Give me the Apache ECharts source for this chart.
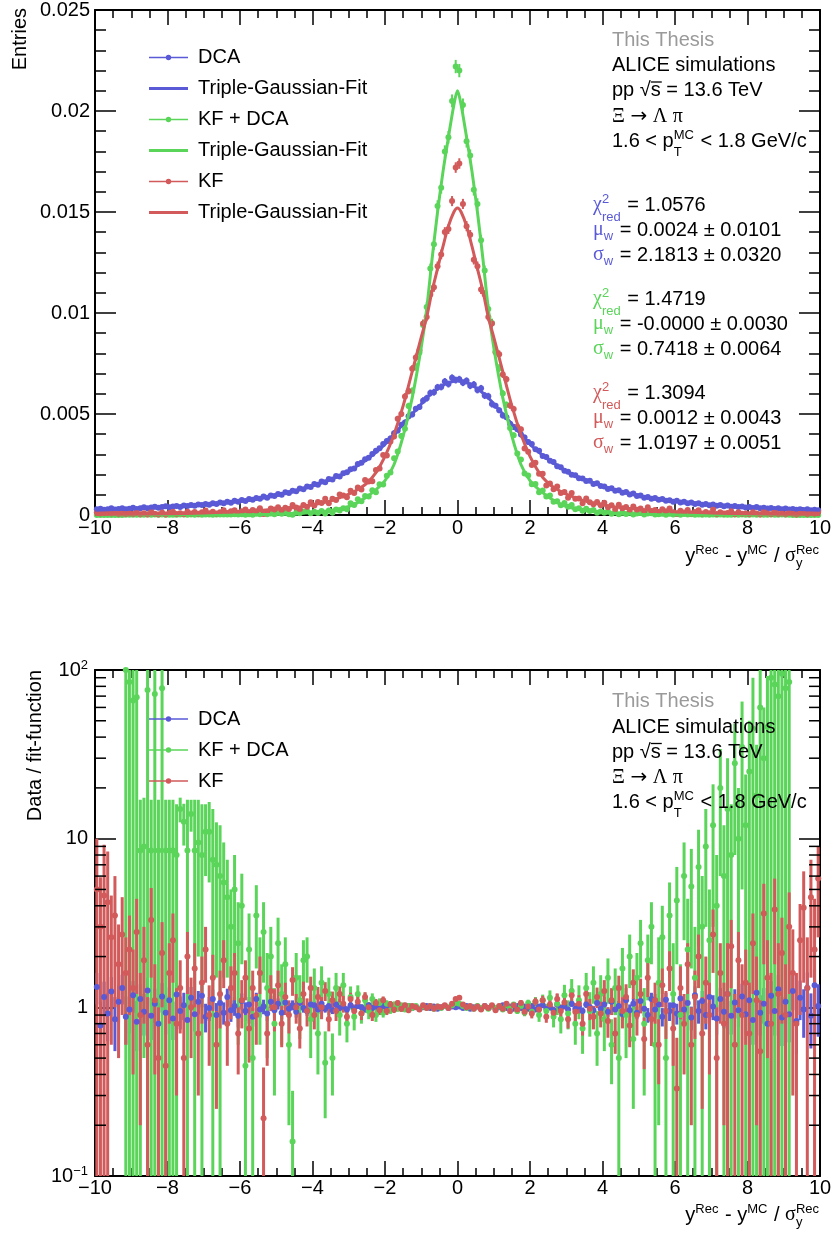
<!DOCTYPE html>
<html><head><meta charset="utf-8">
<script src="https://cdn.jsdelivr.net/npm/echarts@6/dist/echarts.min.js"></script>
<style>html,body{margin:0;padding:0;background:#fff;}#c{width:833px;height:1233px;}</style>
</head><body><div id="c"></div>
<script>
// ---------------- DATA ----------------
const binCenters = [
-9.95,-9.85,-9.75,-9.65,-9.55,-9.45,-9.35,-9.25,-9.15,-9.05,
-8.95,-8.85,-8.75,-8.65,-8.55,-8.45,-8.35,-8.25,-8.15,-8.05,
-7.95,-7.85,-7.75,-7.65,-7.55,-7.45,-7.35,-7.25,-7.15,-7.05,
-6.95,-6.85,-6.75,-6.65,-6.55,-6.45,-6.35,-6.25,-6.15,-6.05,
-5.95,-5.85,-5.75,-5.65,-5.55,-5.45,-5.35,-5.25,-5.15,-5.05,
-4.95,-4.85,-4.75,-4.65,-4.55,-4.45,-4.35,-4.25,-4.15,-4.05,
-3.95,-3.85,-3.75,-3.65,-3.55,-3.45,-3.35,-3.25,-3.15,-3.05,
-2.95,-2.85,-2.75,-2.65,-2.55,-2.45,-2.35,-2.25,-2.15,-2.05,
-1.95,-1.85,-1.75,-1.65,-1.55,-1.45,-1.35,-1.25,-1.15,-1.05,
-0.95,-0.85,-0.75,-0.65,-0.55,-0.45,-0.35,-0.25,-0.15,-0.05,
0.05,0.15,0.25,0.35,0.45,0.55,0.65,0.75,0.85,0.95,
1.05,1.15,1.25,1.35,1.45,1.55,1.65,1.75,1.85,1.95,
2.05,2.15,2.25,2.35,2.45,2.55,2.65,2.75,2.85,2.95,
3.05,3.15,3.25,3.35,3.45,3.55,3.65,3.75,3.85,3.95,
4.05,4.15,4.25,4.35,4.45,4.55,4.65,4.75,4.85,4.95,
5.05,5.15,5.25,5.35,5.45,5.55,5.65,5.75,5.85,5.95,
6.05,6.15,6.25,6.35,6.45,6.55,6.65,6.75,6.85,6.95,
7.05,7.15,7.25,7.35,7.45,7.55,7.65,7.75,7.85,7.95,
8.05,8.15,8.25,8.35,8.45,8.55,8.65,8.75,8.85,8.95,
9.05,9.15,9.25,9.35,9.45,9.55,9.65,9.75,9.85,9.95];

// Top panel: entries (DCA)
const dcaEntries = [
0.00028,0.00031,0.00026,0.00029,0.00033,0.00027,0.00030,0.00034,0.00029,0.00031,
0.00036,0.00030,0.00034,0.00038,0.00033,0.00037,0.00041,0.00036,0.00039,0.00043,
0.00038,0.00042,0.00045,0.00040,0.00047,0.00044,0.00050,0.00046,0.00052,0.00049,
0.00055,0.00051,0.00058,0.00054,0.00062,0.00058,0.00066,0.00061,0.00070,0.00066,
0.00074,0.00069,0.00079,0.00075,0.00084,0.00080,0.00091,0.00086,0.00097,0.00094,
0.00104,0.00100,0.00113,0.00109,0.00120,0.00118,0.00131,0.00127,0.00141,0.00138,
0.00153,0.00150,0.00166,0.00162,0.00178,0.00176,0.00193,0.00190,0.00207,0.00212,
0.00226,0.00230,0.00252,0.00259,0.00276,0.00283,0.00302,0.00318,0.00330,0.00352,
0.00366,0.00379,0.00405,0.00418,0.00447,0.00458,0.00489,0.00498,0.00526,0.00535,
0.00566,0.00578,0.00604,0.00608,0.00632,0.00634,0.00661,0.00648,0.00679,0.00668,
0.00672,0.00655,0.00664,0.00640,0.00646,0.00619,0.00627,0.00591,0.00588,0.00549,
0.00541,0.00518,0.00492,0.00484,0.00452,0.00436,0.00425,0.00398,0.00384,0.00362,
0.00351,0.00326,0.00318,0.00292,0.00287,0.00268,0.00262,0.00241,0.00237,0.00219,
0.00214,0.00199,0.00197,0.00182,0.00181,0.00168,0.00169,0.00154,0.00157,0.00143,
0.00141,0.00129,0.00133,0.00120,0.00122,0.00110,0.00114,0.00102,0.00106,0.00094,
0.00097,0.00086,0.00089,0.00080,0.00084,0.00075,0.00079,0.00070,0.00073,0.00066,
0.00070,0.00062,0.00065,0.00058,0.00062,0.00055,0.00058,0.00051,0.00055,0.00048,
0.00052,0.00046,0.00049,0.00043,0.00047,0.00041,0.00044,0.00039,0.00042,0.00037,
0.00040,0.00035,0.00039,0.00034,0.00036,0.00032,0.00035,0.00030,0.00033,0.00029,
0.00032,0.00027,0.00030,0.00026,0.00029,0.00025,0.00028,0.00024,0.00026,0.00023];
const dcaErr = [
0.00004,0.00004,0.00004,0.00004,0.00004,0.00004,0.00004,0.00004,0.00004,0.00004,
0.00004,0.00004,0.00004,0.00004,0.00004,0.00004,0.00004,0.00004,0.00004,0.00004,
0.00005,0.00005,0.00005,0.00005,0.00005,0.00005,0.00005,0.00005,0.00005,0.00005,
0.00005,0.00005,0.00005,0.00005,0.00005,0.00005,0.00005,0.00005,0.00005,0.00005,
0.00006,0.00006,0.00006,0.00006,0.00006,0.00006,0.00006,0.00006,0.00006,0.00006,
0.00007,0.00007,0.00007,0.00007,0.00007,0.00007,0.00007,0.00007,0.00007,0.00007,
0.00009,0.00009,0.00009,0.00009,0.00009,0.00009,0.00009,0.00009,0.00009,0.00009,
0.00011,0.00011,0.00011,0.00011,0.00011,0.00011,0.00011,0.00011,0.00011,0.00011,
0.00014,0.00014,0.00014,0.00014,0.00014,0.00014,0.00014,0.00014,0.00014,0.00014,
0.00017,0.00017,0.00017,0.00017,0.00017,0.00017,0.00017,0.00017,0.00017,0.00017,
0.00017,0.00017,0.00017,0.00017,0.00017,0.00017,0.00017,0.00017,0.00017,0.00017,
0.00014,0.00014,0.00014,0.00014,0.00014,0.00014,0.00014,0.00014,0.00014,0.00014,
0.00011,0.00011,0.00011,0.00011,0.00011,0.00011,0.00011,0.00011,0.00011,0.00011,
0.00009,0.00009,0.00009,0.00009,0.00009,0.00009,0.00009,0.00009,0.00009,0.00009,
0.00007,0.00007,0.00007,0.00007,0.00007,0.00007,0.00007,0.00007,0.00007,0.00007,
0.00006,0.00006,0.00006,0.00006,0.00006,0.00006,0.00006,0.00006,0.00006,0.00006,
0.00005,0.00005,0.00005,0.00005,0.00005,0.00005,0.00005,0.00005,0.00005,0.00005,
0.00005,0.00005,0.00005,0.00005,0.00005,0.00005,0.00005,0.00005,0.00005,0.00005,
0.00004,0.00004,0.00004,0.00004,0.00004,0.00004,0.00004,0.00004,0.00004,0.00004,
0.00004,0.00004,0.00004,0.00004,0.00004,0.00004,0.00004,0.00004,0.00004,0.00004];

// Top panel: entries (KF + DCA)
const kfdcaEntries = [
0,0,0,0,0,0,0,0,0.00001,0.00001,
0.00001,0.00001,0.00001,0.00001,0.00002,0.00001,0.00002,0.00001,0.00002,0.00001,
0.00001,0.00001,0.00001,0.00002,0.00002,0.00001,0.00002,0.00001,0.00002,0.00001,
0.00002,0.00002,0.00001,0.00002,0.00002,0.00002,0.00003,0.00002,0.00004,0.00002,
0.00004,0.00001,0.00004,0.00001,0.00006,0.00004,0.00007,0.00004,0.00008,0.00004,
0.00011,0.00006,0.00011,0.00004,0.00001,0.00011,0.00009,0.00017,0.0002,0.00009,
0.00016,0.0001,0.0002,0.00008,0.00022,0.00011,0.00027,0.00022,0.00034,0.00028,
0.00058,0.0005,0.00078,0.00068,0.00094,0.00092,0.00123,0.00113,0.00152,0.00151,
0.00194,0.00211,0.00281,0.00314,0.00391,0.00427,0.0054,0.00614,0.00734,0.00804,
0.0094,0.0103,0.0122,0.0134,0.0153,0.0162,0.018,0.0187,0.0205,0.0222,
0.0220,0.0203,0.0185,0.0178,0.0161,0.0154,0.0136,0.0121,0.0102,0.0095,
0.0081,0.00727,0.00601,0.00546,0.00431,0.00395,0.00304,0.00275,0.00205,0.00196,
0.00152,0.00154,0.00113,0.00121,0.00092,0.00097,0.00065,0.00068,0.00048,0.00059,
0.00041,0.00049,0.00028,0.00034,0.00021,0.00031,0.0002,0.00025,0.00011,0.00017,
0.00011,0.00017,0.00006,0.00012,0.00004,0.00011,0.00005,0.00011,0.00003,0.00007,
0.0001,0.00003,0.00007,0.00009,0.00002,0.00004,0.00006,0.00001,0.00006,0.00002,
0.00005,0.00001,0.00005,0.00002,0.00004,0.00001,0.00003,0.00001,0.00003,0.00001,
0.00002,0.00001,0.00002,0.00001,0.00001,0.00001,0.00002,0.00001,0.00002,0.00001,
0.00001,0.00002,0.00001,0.00002,0.00001,0.00001,0.00002,0.00001,0.00001,0.00002,
0.00001,0.00001,0,0,0,0,0,0,0,0];
const kfdcaErr = [
0,0,0,0,0,0,0,0,0.00001,0.00001,
0.00001,0.00001,0.00001,0.00001,0.00001,0.00001,0.00001,0.00001,0.00001,0.00001,
0.00001,0.00001,0.00001,0.00001,0.00001,0.00001,0.00001,0.00001,0.00001,0.00001,
0.00001,0.00001,0.00001,0.00001,0.00001,0.00001,0.00002,0.00002,0.00002,0.00002,
0.00002,0.00002,0.00002,0.00002,0.00002,0.00002,0.00002,0.00002,0.00002,0.00002,
0.00002,0.00002,0.00002,0.00002,0.00002,0.00002,0.00002,0.00002,0.00002,0.00002,
0.00003,0.00003,0.00003,0.00003,0.00003,0.00003,0.00003,0.00003,0.00003,0.00003,
0.00005,0.00005,0.00005,0.00005,0.00005,0.00005,0.00005,0.00005,0.00005,0.00005,
0.0001,0.00011,0.00012,0.00013,0.00014,0.00015,0.00016,0.00018,0.0002,0.00021,
0.00022,0.00024,0.00025,0.00027,0.00028,0.00029,0.0003,0.00031,0.00032,0.00033,
0.00033,0.00032,0.00031,0.0003,0.00029,0.00028,0.00027,0.00025,0.00024,0.00022,
0.00021,0.0002,0.00018,0.00016,0.00015,0.00014,0.00013,0.00012,0.00011,0.0001,
0.00005,0.00005,0.00005,0.00005,0.00005,0.00005,0.00005,0.00005,0.00005,0.00005,
0.00003,0.00003,0.00003,0.00003,0.00003,0.00003,0.00003,0.00003,0.00003,0.00003,
0.00002,0.00002,0.00002,0.00002,0.00002,0.00002,0.00002,0.00002,0.00002,0.00002,
0.00002,0.00002,0.00002,0.00002,0.00002,0.00002,0.00002,0.00002,0.00002,0.00002,
0.00002,0.00002,0.00002,0.00002,0.00001,0.00001,0.00001,0.00001,0.00001,0.00001,
0.00001,0.00001,0.00001,0.00001,0.00001,0.00001,0.00001,0.00001,0.00001,0.00001,
0.00001,0.00001,0.00001,0.00001,0.00001,0.00001,0.00001,0.00001,0.00001,0.00001,
0.00001,0.00001,0,0,0,0,0,0,0,0];

// Top panel: entries (KF)
const kfEntries = [
0.00013,0.00008,0.00012,0.00011,0.00007,0.0001,0.00005,0.00008,0.00005,0.00008,
0.00005,0.00012,0.00004,0.00009,0.00003,0.00016,0.00006,0.00003,0.00012,0.00003,
0.0001,0.00016,0.00005,0.00009,0.00004,0.00016,0.00008,0.00015,0.00006,0.00014,
0.00022,0.00009,0.00016,0.00007,0.00014,0.00023,0.0001,0.00018,0.00023,0.00011,
0.00019,0.00027,0.00014,0.00025,0.00018,0.00033,0.00005,0.00016,0.00032,0.00027,
0.00038,0.00024,0.00036,0.0003,0.0005,0.00037,0.00029,0.00049,0.00041,0.00063,
0.00047,0.00064,0.0006,0.0008,0.00058,0.0008,0.00074,0.00102,0.00097,0.00088,
0.0012,0.00109,0.00136,0.00126,0.00173,0.00166,0.00167,0.00223,0.0023,0.00297,
0.00295,0.00364,0.00388,0.00477,0.005,0.00587,0.00614,0.00724,0.0078,0.00815,
0.00948,0.0098,0.01091,0.01127,0.01232,0.0129,0.01401,0.01416,0.01554,0.0172,
0.0174,0.0154,0.0143,0.01387,0.01264,0.01232,0.01116,0.01091,0.0098,0.00948,
0.00806,0.00796,0.00696,0.00672,0.00542,0.00525,0.00437,0.00424,0.00329,0.00313,
0.00248,0.00259,0.00204,0.00204,0.00146,0.00156,0.00127,0.00141,0.00109,0.00114,
0.00085,0.00109,0.0008,0.00082,0.00058,0.00082,0.00063,0.00053,0.00064,0.00048,
0.00061,0.00038,0.00048,0.00029,0.00051,0.00034,0.00039,0.00025,0.00042,0.00026,
0.00032,0.00017,0.00038,0.0002,0.00025,0.00013,0.00028,0.00019,0.00032,0.00014,
0.00006,0.00021,0.00012,0.00025,0.00008,0.00015,0.00024,0.00008,0.00015,0.00009,
0.00027,0.00005,0.00014,0.00007,0.0001,0.00018,0.00004,0.00013,0.00006,0.00008,
0.00004,0.00014,0.00007,0.00003,0.00018,0.00008,0.00004,0.00019,0.00005,0.00008,
0.00004,0.00012,0.00006,0.00002,0.00008,0.00012,0.00004,0.00013,0.00006,0.00015];
const kfErr = [
0.00003,0.00003,0.00003,0.00003,0.00003,0.00003,0.00003,0.00003,0.00003,0.00003,
0.00003,0.00003,0.00003,0.00003,0.00003,0.00003,0.00003,0.00003,0.00003,0.00003,
0.00003,0.00003,0.00003,0.00003,0.00003,0.00003,0.00003,0.00003,0.00003,0.00003,
0.00003,0.00003,0.00003,0.00003,0.00003,0.00003,0.00003,0.00003,0.00003,0.00003,
0.00004,0.00004,0.00004,0.00004,0.00004,0.00004,0.00004,0.00004,0.00004,0.00004,
0.00004,0.00004,0.00004,0.00004,0.00004,0.00004,0.00004,0.00004,0.00004,0.00004,
0.00006,0.00006,0.00006,0.00006,0.00006,0.00006,0.00006,0.00006,0.00006,0.00006,
0.00008,0.00008,0.00008,0.00008,0.00008,0.00008,0.00008,0.00008,0.00008,0.00008,
0.00011,0.00012,0.00013,0.00014,0.00015,0.00016,0.00017,0.00018,0.00019,0.0002,
0.0002,0.00021,0.00022,0.00022,0.00023,0.00024,0.00024,0.00025,0.00025,0.00026,
0.00026,0.00025,0.00025,0.00024,0.00024,0.00023,0.00022,0.00022,0.00021,0.0002,
0.0002,0.00019,0.00018,0.00017,0.00016,0.00015,0.00014,0.00013,0.00012,0.00011,
0.00008,0.00008,0.00008,0.00008,0.00008,0.00008,0.00008,0.00008,0.00008,0.00008,
0.00006,0.00006,0.00006,0.00006,0.00006,0.00006,0.00006,0.00006,0.00006,0.00006,
0.00004,0.00004,0.00004,0.00004,0.00004,0.00004,0.00004,0.00004,0.00004,0.00004,
0.00004,0.00004,0.00004,0.00004,0.00004,0.00004,0.00004,0.00004,0.00004,0.00004,
0.00003,0.00003,0.00003,0.00003,0.00003,0.00003,0.00003,0.00003,0.00003,0.00003,
0.00003,0.00003,0.00003,0.00003,0.00003,0.00003,0.00003,0.00003,0.00003,0.00003,
0.00003,0.00003,0.00003,0.00003,0.00003,0.00003,0.00003,0.00003,0.00003,0.00003,
0.00003,0.00003,0.00003,0.00003,0.00003,0.00003,0.00003,0.00003,0.00003,0.00003];

// Triple-Gaussian fit curves, sampled
const fitX = [-10,-9,-8,-7,-6,-5.5,-5,-4.5,-4,-3.5,-3,-2.75,-2.5,-2.25,-2,-1.75,-1.5,-1.25,-1,-0.85,-0.7,-0.55,-0.4,-0.25,-0.1,
0,0.1,0.25,0.4,0.55,0.7,0.85,1,1.25,1.5,1.75,2,2.25,2.5,2.75,3,3.5,4,4.5,5,5.5,6,7,8,9,10];
const dcaFit = [0.00024,0.0003,0.00038,0.0005,0.00068,0.0008,0.00097,0.00118,0.00144,0.00176,0.00215,0.00245,0.00275,0.0031,0.0035,0.004,0.0045,0.005,0.0055,0.0058,0.00604,0.00625,0.00642,0.00655,0.00662,
0.00664,0.00662,0.00655,0.00642,0.00625,0.00604,0.0058,0.0055,0.005,0.0045,0.004,0.0035,0.0031,0.00275,0.00245,0.00215,0.00176,0.00144,0.00118,0.00097,0.0008,0.00068,0.0005,0.00038,0.0003,0.00024];
const kfdcaFit = [0,0,0,0.000002,0.00001,0.00002,0.00004,0.00007,0.00012,0.00022,0.00042,0.00061,0.0009,0.00125,0.0017,0.0025,0.0039,0.0058,0.0083,0.0102,0.0127,0.015,0.017,0.0187,0.0203,
0.021,0.0203,0.0187,0.017,0.015,0.0127,0.0102,0.0083,0.0058,0.0039,0.0025,0.0017,0.00125,0.0009,0.00061,0.00042,0.00022,0.00012,0.00007,0.00004,0.00002,0.00001,0.000002,0,0,0];
const kfFit = [0.000025,0.00004,0.00006,0.0001,0.00017,0.00022,0.00028,0.00037,0.0005,0.0007,0.00103,0.00126,0.00158,0.0021,0.0029,0.004,0.0054,0.0071,0.0088,0.0098,0.0111,0.0122,0.0133,0.0143,0.015,
0.0152,0.015,0.0143,0.0133,0.0122,0.0111,0.0098,0.0088,0.0071,0.0054,0.004,0.0029,0.0021,0.00158,0.00126,0.00103,0.0007,0.0005,0.00037,0.00028,0.00022,0.00017,0.0001,0.00006,0.00004,0.000025];

// Bottom panel: data / fit-function
const dcaRatio = [
1.32,0.78,1.15,0.92,1.24,0.85,1.08,1.30,0.88,0.97,1.18,0.82,1.12,0.94,1.26,0.89,1.05,0.80,1.16,0.93,
1.10,0.86,1.19,0.95,1.03,0.84,1.14,0.91,1.08,1.17,0.88,0.99,1.12,0.90,1.06,0.93,1.15,0.96,1.02,0.89,
1.09,0.95,1.04,0.88,1.12,0.97,1.01,0.92,1.08,0.96,1.05,0.93,1.07,0.98,1.03,0.94,1.06,0.99,0.95,1.04,
1.03,0.97,1.05,0.98,1.02,0.96,1.04,0.99,1.01,0.97,1.03,0.98,1.02,1.00,0.97,1.03,0.99,1.01,0.98,1.02,
0.99,1.02,0.98,1.01,1.00,0.98,1.02,0.99,1.01,0.98,1.00,1.02,0.99,1.01,0.98,1.00,1.02,0.99,1.01,1.00,
1.01,0.99,1.02,0.98,1.00,1.01,0.98,1.02,0.99,1.01,0.98,1.00,1.03,0.99,1.01,0.98,1.02,0.99,1.01,0.98,
1.02,0.97,1.01,1.03,0.98,1.00,0.96,1.04,0.99,1.02,0.97,1.05,0.98,1.01,0.95,1.04,1.00,0.96,1.06,0.98,
1.04,0.94,1.08,0.97,1.02,0.91,1.10,0.96,1.05,0.93,1.09,0.98,0.90,1.12,0.97,1.04,0.88,1.11,0.95,1.03,
0.92,1.13,0.97,1.06,0.87,1.18,0.95,1.09,0.90,1.15,1.01,0.86,1.12,0.94,1.20,0.89,1.07,0.96,1.16,0.91,
1.10,0.84,1.22,0.93,1.05,0.80,1.17,0.95,1.28,0.87,1.08,0.91,1.25,0.83,1.14,0.97,1.30,0.89,1.35,1.02];
const dcaRatioErr = [
0.28,0.3,0.27,0.29,0.27,0.3,0.27,0.26,0.28,0.27,0.25,0.27,0.25,0.26,0.24,0.25,0.24,0.26,0.23,0.24,
0.21,0.22,0.2,0.21,0.19,0.2,0.18,0.19,0.17,0.17,0.17,0.16,0.15,0.16,0.15,0.14,0.14,0.14,0.13,0.13,
0.12,0.12,0.11,0.11,0.1,0.1,0.1,0.09,0.09,0.09,0.08,0.08,0.08,0.07,0.07,0.07,0.07,0.06,0.06,0.06,
0.055,0.055,0.05,0.05,0.05,0.048,0.046,0.045,0.044,0.043,0.042,0.04,0.04,0.039,0.038,0.037,0.036,0.035,0.034,0.034,
0.033,0.032,0.031,0.031,0.03,0.03,0.029,0.029,0.028,0.028,0.028,0.027,0.027,0.027,0.027,0.026,0.026,0.026,0.026,0.026,
0.026,0.026,0.026,0.026,0.026,0.027,0.027,0.027,0.027,0.028,0.028,0.028,0.029,0.029,0.03,0.03,0.031,0.031,0.032,0.033,
0.034,0.034,0.035,0.036,0.037,0.038,0.039,0.04,0.04,0.042,0.043,0.044,0.045,0.046,0.048,0.05,0.05,0.05,0.055,0.055,
0.06,0.06,0.06,0.07,0.07,0.07,0.07,0.08,0.08,0.08,0.09,0.09,0.09,0.1,0.1,0.1,0.11,0.11,0.12,0.12,
0.13,0.13,0.14,0.14,0.14,0.15,0.15,0.16,0.16,0.17,0.17,0.17,0.18,0.19,0.19,0.2,0.21,0.2,0.22,0.22,
0.23,0.24,0.24,0.25,0.25,0.26,0.26,0.27,0.27,0.28,0.28,0.29,0.29,0.3,0.3,0.31,0.31,0.32,0.33,0.35];

const kfdcaRatio = [
null,null,null,null,null,null,null,null,100,85,
66,69,8.5,9.0,76,8.5,72,8.5,78,8.5,
8.5,8.5,8.0,15,12.6,8.5,14,8.5,9.5,8.0,
11,11,7.5,7.0,6.0,5.5,4.5,3.0,5.0,2.4,
4.0,0.45,2.2,0.5,3.5,1.6,2.8,1.3,2.0,0.8,
2.4,1.2,1.8,0.6,0.16,1.5,1.1,1.9,2.0,0.85,
1.3,0.7,1.4,0.47,1.2,0.5,1.3,0.9,1.35,0.8,
1.15,0.88,1.2,0.92,1.1,0.95,1.12,0.9,1.06,0.93,
1.05,0.96,1.04,0.98,1.03,0.97,1.02,0.99,1.02,0.98,
1.01,0.99,1.02,0.98,1.01,0.99,1.02,1.0,1.03,1.06,
1.05,1.02,0.99,1.01,0.98,1.02,0.99,1.01,0.98,1.02,
0.99,1.01,0.97,1.03,0.98,1.04,0.95,1.02,0.93,1.06,
0.94,1.08,0.9,1.1,0.95,1.14,0.88,1.05,0.85,1.18,
0.92,1.25,0.8,1.1,0.75,1.3,0.95,1.4,0.7,1.2,
0.85,1.5,0.6,1.3,0.5,1.7,0.9,2.0,0.65,1.5,
2.4,0.8,1.9,3.0,0.6,1.4,2.6,0.5,3.5,1.2,
4.3,0.9,6.0,2.2,5.2,1.5,6.8,3.0,9.0,2.5,
12,4.0,20,6.0,15,8.0,28,10,35,12,
25,45,18,60,30,46,90,82,70,95,
78,85,null,null,null,null,null,null,null,null];
const kfdcaRatioErr = [
null,null,null,null,null,null,null,null,100,85,
66,69,8.5,8.5,76,8.5,72,8.5,78,8.5,
8.5,8.5,8.0,2.5,3.5,8.5,3,8.5,7.5,8.0,
5,5.5,7.5,5.5,6.0,4.0,3.0,2.0,3.0,1.8,
2.2,0.45,1.4,0.5,1.8,1.0,1.4,0.8,1.0,0.5,
1.0,0.6,0.8,0.4,0.16,0.6,0.45,0.6,0.6,0.35,
0.4,0.3,0.35,0.25,0.3,0.2,0.3,0.22,0.25,0.18,
0.18,0.15,0.15,0.12,0.12,0.1,0.09,0.08,0.07,0.06,
0.05,0.045,0.04,0.035,0.03,0.028,0.025,0.022,0.02,0.02,
0.018,0.018,0.017,0.017,0.016,0.016,0.016,0.016,0.015,0.015,
0.015,0.015,0.016,0.016,0.016,0.016,0.017,0.017,0.018,0.018,
0.02,0.02,0.022,0.025,0.028,0.03,0.035,0.04,0.045,0.05,
0.06,0.07,0.08,0.09,0.1,0.12,0.12,0.15,0.15,0.18,
0.18,0.22,0.2,0.25,0.22,0.3,0.28,0.35,0.25,0.35,
0.3,0.45,0.25,0.4,0.5,0.55,0.4,0.7,0.4,0.6,
0.9,0.5,0.8,1.2,0.6,1.2,1.4,0.5,2.0,1.2,
2.5,0.9,3.5,2.2,3.5,1.5,4.5,3.0,6.0,2.5,
9,4.0,14,6.0,15,8.0,20,10,30,12,
25,45,18,60,30,46,90,82,70,95,
78,85,null,null,null,null,null,null,null,null];

const kfRatio = [
5.0,3.0,4.6,4.2,2.6,3.5,1.8,2.7,1.6,2.2,
1.3,2.8,0.9,1.9,0.6,3.3,1.1,0.5,2.1,0.45,
1.6,2.5,0.8,1.3,0.5,2.0,1.0,1.7,0.7,1.4,
2.2,0.9,1.5,0.6,1.2,1.9,0.8,1.3,1.6,0.7,
1.1,1.5,0.75,1.3,0.9,1.6,0.22,0.7,1.25,1.0,
1.35,0.8,1.15,0.9,1.45,1.0,0.75,1.2,0.95,1.3,
0.9,1.15,1.0,1.25,0.85,1.1,0.95,1.2,1.05,0.88,
1.12,0.95,1.08,0.92,1.15,1.0,0.9,1.06,0.96,1.1,
0.95,1.04,0.97,1.06,0.98,1.03,0.96,1.02,1.0,0.97,
1.03,0.99,1.02,0.98,1.01,1.0,1.03,0.99,1.05,1.12,
1.14,1.04,1.0,1.02,0.98,1.01,0.97,1.02,0.99,1.03,
0.96,1.02,0.98,1.05,0.95,1.03,0.97,1.06,0.94,1.01,
0.92,1.08,0.97,1.1,0.88,1.04,0.93,1.12,0.95,1.07,
0.85,1.18,0.94,1.05,0.8,1.2,0.98,0.88,1.15,0.92,
1.25,0.83,1.1,0.7,1.3,0.95,1.15,0.78,1.4,0.9,
1.2,0.65,1.5,0.85,1.1,0.6,1.35,0.95,1.7,0.75,
0.33,1.3,0.8,1.8,0.6,1.15,2.0,0.7,1.4,0.9,
2.7,0.5,1.6,0.8,1.2,2.3,0.6,1.9,0.9,1.4,
0.7,2.4,1.1,0.55,3.6,1.5,0.8,3.8,1.2,2.1,
0.9,3.0,1.6,0.8,2.5,3.9,1.3,4.5,2.2,5.8];
const kfRatioErr = [
5.0,2.9,4.6,4.2,2.0,2.5,1.3,1.8,1.0,1.3,
0.9,1.6,0.7,1.1,0.55,1.8,0.7,0.5,1.1,0.45,
0.8,1.1,0.5,0.6,0.5,0.8,0.5,0.7,0.4,0.6,
0.8,0.45,0.55,0.35,0.45,0.6,0.35,0.45,0.5,0.3,
0.35,0.4,0.28,0.35,0.3,0.4,0.22,0.25,0.3,0.28,
0.3,0.22,0.25,0.2,0.28,0.2,0.18,0.22,0.18,0.22,
0.16,0.17,0.15,0.16,0.13,0.14,0.12,0.13,0.12,0.1,
0.1,0.09,0.09,0.08,0.08,0.07,0.07,0.06,0.06,0.06,
0.05,0.05,0.045,0.04,0.04,0.035,0.035,0.03,0.03,0.03,
0.028,0.027,0.026,0.025,0.025,0.024,0.024,0.024,0.023,0.023,
0.023,0.023,0.024,0.024,0.024,0.025,0.025,0.026,0.027,0.028,
0.03,0.03,0.03,0.035,0.035,0.04,0.04,0.045,0.05,0.05,
0.06,0.06,0.06,0.07,0.07,0.08,0.08,0.09,0.09,0.1,
0.1,0.12,0.12,0.13,0.12,0.14,0.14,0.14,0.16,0.16,
0.2,0.17,0.2,0.17,0.24,0.2,0.22,0.2,0.28,0.22,
0.28,0.22,0.35,0.26,0.3,0.25,0.35,0.3,0.45,0.3,
0.33,0.45,0.4,0.6,0.4,0.5,0.7,0.45,0.6,0.5,
1.1,0.5,0.8,0.6,1.2,1.0,0.6,0.9,0.9,0.8,
0.7,1.2,0.9,0.55,1.8,1.0,0.8,2.0,1.2,1.3,
0.9,1.8,1.3,0.8,1.6,2.5,1.3,3.0,2.2,3.2];

// minor tick positions of the logarithmic axis (2..9 per decade)
const logMinorTicks = [0.2,0.3,0.4,0.5,0.6,0.7,0.8,0.9,2,3,4,5,6,7,8,9,20,30,40,50,60,70,80,90];

// ---------------- STYLE ----------------
const FONT = "'Liberation Sans', Arial, Helvetica, sans-serif";
const SERIF = "'Liberation Serif', 'Times New Roman', serif";
const ARROWF = "'DejaVu Sans', sans-serif";
const C_DCA = '#5a5ad6', C_KFDCA = '#5ad55a', C_KF = '#d25a5a';

const mctx = document.createElement('canvas').getContext('2d');
function tw(t, size, fam){ mctx.font = size + 'px ' + (fam || FONT); return mctx.measureText(t).width; }
function T(x, y, text, size, color, fam){
  return {type:'text', x:x, y:y, silent:true, z:100,
    style:{text:text, fontSize:size, fontFamily:fam||FONT, fill:color||'#000', align:'left', verticalAlign:'middle'}};
}
function textLine(x0, y, segs, right){
  const items = []; let x = 0;
  for (const s of segs){
    if (s.t !== undefined){
      const size = s.s || 20, f = s.f || FONT, w = tw(s.t, size, f);
      items.push({k:'t', x:x, y:y, t:s.t, size:size, c:s.c, f:f});
      if (s.over) items.push({k:'l', x1:x, x2:x + w + 1, y:y - 8.5});
      x += w;
    } else {
      let w = 0; const f = s.f || FONT;
      if (s.sup){ items.push({k:'t', x:x, y:y - 6, t:s.sup, size:13, c:s.c, f:f}); w = tw(s.sup, 13, f); }
      if (s.sub){ items.push({k:'t', x:x, y:y + (s.dy || 7), t:s.sub, size:13, c:s.c, f:f}); w = Math.max(w, tw(s.sub, 13, f)); }
      x += w + 1;
    }
  }
  const off = right ? x0 - x : x0;
  return items.map(it => it.k === 't' ? T(it.x + off, it.y, it.t, it.size, it.c, it.f)
    : {type:'line', silent:true, z:100, shape:{x1:it.x1 + off, y1:it.y, x2:it.x2 + off, y2:it.y}, style:{stroke:'#000', lineWidth:1.3}});
}

function header(dy){
  let g = [];
  g = g.concat(textLine(612, 40 + dy, [{t:'This Thesis', c:'#9a9a9a'}]));
  g = g.concat(textLine(612, 65.5 + dy, [{t:'ALICE simulations'}]));
  g = g.concat(textLine(612, 90.5 + dy, [{t:'pp '}, {t:'\u221A'}, {t:'s', over:true}, {t:' = 13.6 TeV'}]));
  g = g.concat(textLine(612, 116.5 + dy, [{t:'\u039E', f:SERIF}, {t:' '}, {t:'\u2192', f:ARROWF}, {t:' '}, {t:'\u039B', f:SERIF}, {t:' '}, {t:'\u03C0', f:SERIF}]));
  g = g.concat(textLine(612, 141 + dy, [{t:'1.6 < p'}, {sup:'MC', sub:'T', dy:11}, {t:' < 1.8 GeV/c'}]));
  return g;
}
function stats(y, c, chi, mu, sig){
  let g = [];
  g = g.concat(textLine(593, y, [{t:'\u03C7', c:c, f:SERIF}, {sup:'2', sub:'red', c:c, dy:12}, {t:' = ' + chi}]));
  g = g.concat(textLine(593, y + 25, [{t:'\u03BC', c:c, f:SERIF}, {sub:'w', c:c, dy:6}, {t:' = ' + mu}]));
  g = g.concat(textLine(593, y + 50, [{t:'\u03C3', c:c, f:SERIF}, {sub:'w', c:c, dy:6}, {t:' = ' + sig}]));
  return g;
}
function xTitle(y){
  return textLine(820, y, [{t:'y'}, {sup:'Rec'}, {t:' - y'}, {sup:'MC'}, {t:' / '}, {t:'\u03C3', f:SERIF}, {sup:'Rec', sub:'y', dy:7}], true);
}
function yTitle(x, y, text){
  return {type:'text', x:x, y:y, rotation:Math.PI / 2, silent:true, z:100,
    style:{text:text, fontSize:20, fontFamily:FONT, fill:'#000', align:'right', verticalAlign:'middle'}};
}

let graphics = [];
graphics = graphics.concat(header(0), header(661.5));
graphics = graphics.concat(stats(205, C_DCA, '1.0576', '0.0024 \u00B1 0.0101', '2.1813 \u00B1 0.0320'));
graphics = graphics.concat(stats(299, C_KFDCA, '1.4719', '-0.0000 \u00B1 0.0030', '0.7418 \u00B1 0.0064'));
graphics = graphics.concat(stats(393, C_KF, '1.3094', '0.0012 \u00B1 0.0043', '1.0197 \u00B1 0.0051'));
graphics = graphics.concat(xTitle(556), xTitle(1215));
graphics.push(yTitle(20, 8, 'Entries'));
graphics.push(yTitle(35, 670, 'Data / fit-function'));

// ---------------- SERIES BUILDERS ----------------
function errBars(name, vals, errs, color, xi, yi, yMin, yMax, width){
  const data = [];
  binCenters.forEach((x, i) => {
    const v = vals[i], e = errs[i];
    if (v == null || e == null || e === 0) return;
    let lo = v - e, hi = v + e;
    if (hi <= yMin) return;
    if (lo < yMin) lo = yMin;
    if (hi > yMax) hi = yMax;
    data.push([x, lo, hi]);
  });
  return {type:'custom', name:name, xAxisIndex:xi, yAxisIndex:yi, silent:true, itemStyle:{color:color},
    encode:{x:0, y:[1, 2]}, data:data,
    renderItem:function(p, api){
      const a = api.coord([api.value(0), api.value(1)]);
      const b = api.coord([api.value(0), api.value(2)]);
      return {type:'line', shape:{x1:a[0], y1:a[1], x2:b[0], y2:b[1]}, style:{stroke:color, lineWidth:width}};
    }};
}
function marks(name, vals, color, xi, yi, yMin, size){
  const data = [];
  binCenters.forEach((x, i) => { const v = vals[i]; if (v == null || v < yMin) return; data.push([x, v]); });
  return {type:'scatter', name:name, xAxisIndex:xi, yAxisIndex:yi, data:data, symbol:'circle', symbolSize:size,
    itemStyle:{color:color, opacity:1}, silent:true, clip:true};
}
function fitLine(name, vals, color){
  return {type:'line', name:name, xAxisIndex:0, yAxisIndex:0, data:fitX.map((x, i) => [x, vals[i]]),
    smooth:0.3, symbol:'none', showSymbol:false, lineStyle:{color:color, width:3}, itemStyle:{color:color}, silent:true, clip:true};
}

// ---------------- AXES ----------------
const fmtX = v => (v < 0 ? '\u2212' + (-v) : String(v));
function mkX(g, pos, labels){
  return {type:'value', gridIndex:g, position:pos, min:-10, max:10, interval:2,
    axisLine:{show:true, onZero:false, lineStyle:{color:'#000', width:2}},
    axisTick:{show:true, inside:true, length:15, lineStyle:{color:'#000', width:1.5}},
    minorTick:{show:true, splitNumber:4, length:8, lineStyle:{color:'#000', width:1.5}},
    axisLabel:{show:labels, margin:g === 0 ? 3 : 2, fontSize:20, color:'#000', fontFamily:FONT, formatter:fmtX},
    splitLine:{show:false}, minorSplitLine:{show:false}};
}
function mkYLin(pos, labels){
  return {type:'value', gridIndex:0, position:pos, min:0, max:0.025, interval:0.005,
    axisLine:{show:true, onZero:false, lineStyle:{color:'#000', width:2}},
    axisTick:{show:true, inside:true, length:21, lineStyle:{color:'#000', width:1.5}},
    minorTick:{show:true, splitNumber:5, length:11, lineStyle:{color:'#000', width:1.5}},
    axisLabel:{show:labels, margin:5, fontSize:20, color:'#000', fontFamily:FONT, formatter:v => String(+v.toFixed(3))},
    splitLine:{show:false}, minorSplitLine:{show:false}};
}
function mkYLog(pos, labels){
  return {type:'log', logBase:10, gridIndex:1, position:pos, min:0.1, max:100,
    axisLine:{show:true, onZero:false, lineStyle:{color:'#000', width:2}},
    axisTick:{show:true, inside:true, length:21, lineStyle:{color:'#000', width:1.5}},
    minorTick:{show:false},
    axisLabel:{show:labels, margin:7, color:'#000', fontFamily:FONT,
      formatter:function(v){ const e = Math.round(Math.log10(v));
        if (e === 0) return '{b|1}'; if (e === 1) return '{b|10}';
        return '{b|10}{s|' + (e < 0 ? '\u2212' + (-e) : e) + '}'; },
      rich:{b:{fontSize:20, lineHeight:22, fontFamily:FONT, color:'#000'},
            s:{fontSize:13, lineHeight:13, verticalAlign:'top', fontFamily:FONT, color:'#000'}}},
    splitLine:{show:false}, minorSplitLine:{show:false}};
}

const ICON_PT = 'path://M0,0h0.01v0.01h-0.01z M39,20h-0.01v-0.01h0.01z M0,9.2h17v1.6h-17z M22,9.2h17v1.6h-17z M16.8,10a2.7,2.7 0 1,1 5.4,0a2.7,2.7 0 1,1 -5.4,0z';
const ICON_LN = 'path://M0,0h0.01v0.01h-0.01z M39,20h-0.01v-0.01h0.01z M0,8.5h39v3h-39z';
function mkLegend(top, items){
  return {orient:'vertical', left:149, top:top, padding:0, itemWidth:39, itemHeight:20, itemGap:11, selectedMode:false,
    data:items, formatter:n => (n.indexOf('fit') === 0 ? 'Triple-Gaussian-Fit' : n),
    textStyle:{fontSize:20, fontFamily:FONT, color:'#000', lineHeight:20, padding:[0, 0, 0, 5]}};
}

const option = {
  animation:false,
  backgroundColor:'#ffffff',
  textStyle:{fontFamily:FONT},
  grid:[
    {left:95, top:10, width:725, height:505, containLabel:false, outerBoundsMode:'none'},
    {left:95, top:670, width:725, height:506, containLabel:false, outerBoundsMode:'none'}
  ],
  xAxis:[mkX(0, 'bottom', true), mkX(0, 'top', false), mkX(1, 'bottom', true), mkX(1, 'top', false)],
  yAxis:[mkYLin('left', true), mkYLin('right', false), mkYLog('left', true), mkYLog('right', false)],
  legend:[
    mkLegend(47.5, [{name:'DCA', icon:ICON_PT}, {name:'fitDCA', icon:ICON_LN}, {name:'KF + DCA', icon:ICON_PT},
      {name:'fitKFDCA', icon:ICON_LN}, {name:'KF', icon:ICON_PT}, {name:'fitKF', icon:ICON_LN}]),
    mkLegend(709, [{name:'DCA', icon:ICON_PT}, {name:'KF + DCA', icon:ICON_PT}, {name:'KF', icon:ICON_PT}])
  ],
  series:[
    errBars('DCA', dcaEntries, dcaErr, C_DCA, 0, 0, 0, 0.025, 2),
    marks('DCA', dcaEntries, C_DCA, 0, 0, 0, 6),
    fitLine('fitDCA', dcaFit, C_DCA),
    errBars('KF + DCA', kfdcaEntries, kfdcaErr, C_KFDCA, 0, 0, 0, 0.025, 2),
    marks('KF + DCA', kfdcaEntries, C_KFDCA, 0, 0, 0, 6),
    fitLine('fitKFDCA', kfdcaFit, C_KFDCA),
    errBars('KF', kfEntries, kfErr, C_KF, 0, 0, 0, 0.025, 2),
    marks('KF', kfEntries, C_KF, 0, 0, 0, 6),
    fitLine('fitKF', kfFit, C_KF),

    errBars('DCA', dcaRatio, dcaRatioErr, C_DCA, 2, 2, 0.1, 100, 3),
    marks('DCA', dcaRatio, C_DCA, 2, 2, 0.1, 6),
    errBars('KF + DCA', kfdcaRatio, kfdcaRatioErr, C_KFDCA, 2, 2, 0.1, 100, 3),
    marks('KF + DCA', kfdcaRatio, C_KFDCA, 2, 2, 0.1, 6),
    errBars('KF', kfRatio, kfRatioErr, C_KF, 2, 2, 0.1, 100, 3),
    marks('KF', kfRatio, C_KF, 2, 2, 0.1, 6),
    {type:'custom', name:'logMinor', xAxisIndex:2, yAxisIndex:2, silent:true, z:10,
      encode:{x:0, y:1}, data:logMinorTicks.map(v => [0, v]),
      renderItem:function(p, api){
        const v = api.value(1);
        const l = api.coord([-10, v]), r = api.coord([10, v]);
        return {type:'group', children:[
          {type:'line', shape:{x1:l[0], y1:l[1], x2:l[0] + 11, y2:l[1]}, style:{stroke:'#000', lineWidth:1.5}},
          {type:'line', shape:{x1:r[0], y1:r[1], x2:r[0] - 11, y2:r[1]}, style:{stroke:'#000', lineWidth:1.5}}
        ]};
      }}
  ],
  graphic:graphics
};

const chart = echarts.init(document.getElementById('c'), null, {renderer:'canvas', width:833, height:1233});
chart.setOption(option);
</script>
</body></html>
